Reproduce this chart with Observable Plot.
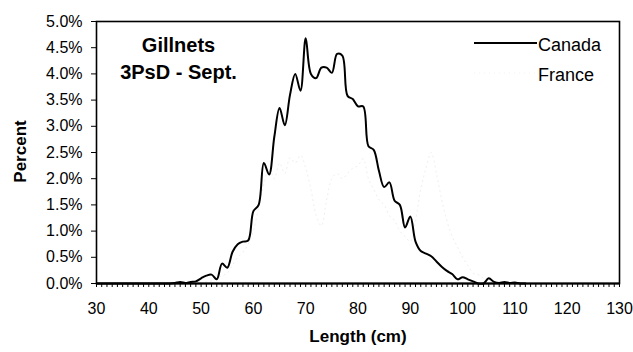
<!DOCTYPE html>
<html>
<head>
<meta charset="utf-8">
<script src="https://cdn.jsdelivr.net/npm/d3@7"></script>
<script src="https://cdn.jsdelivr.net/npm/@observablehq/plot@0.6"></script>
<style>
  html, body { margin: 0; padding: 0; background: #fff; }
  #wrap { position: relative; width: 633px; height: 352px; font-family: "Liberation Sans", Arial, sans-serif; }
  #legend { position: absolute; left: 0; top: 0; pointer-events: none; }
</style>
</head>
<body>
<div id="wrap"></div>
<script>
// Length classes (cm) and percentages
const canadaLength = [30,31,32,33,34,35,36,37,38,39,40,41,42,43,44,45,46,47,48,49,50,51,52,53,54,55,56,57,58,59,60,61,62,63,64,65,66,67,68,69,70,71,72,73,74,75,76,77,78,79,80,81,82,83,84,85,86,87,88,89,90,91,92,93,94,95,96,97,98,99,100,101,102,103,104,105,106,107,108,109,110,111,112];
const canadaPct = [0,0,0,0,0,0,0,0,0,0,0,0,0,0,0,0.01,0.03,0.01,0.03,0.04,0.10,0.15,0.17,0.08,0.38,0.30,0.60,0.75,0.80,0.82,1.38,1.50,2.30,2.08,2.80,3.35,3.02,3.60,4.00,3.68,4.68,4.00,3.92,4.12,4.12,4.02,4.38,4.35,3.58,3.52,3.38,3.38,2.62,2.55,2.15,1.84,1.93,1.58,1.50,1.07,1.28,0.80,0.62,0.57,0.52,0.42,0.32,0.24,0.18,0.08,0.12,0.08,0.04,0,0,0.10,0.03,0.01,0.03,0.01,0.02,0,0];

const franceLength = [48,50,52,54,55,56,57,58,59,60,61,62,63,64,65,66,67,68,69,70,71,72,73,74,75,76,77,78,79,80,81,82,83,84,85,86,87,88,89,90,91,92,93,94,95,96,97,98,99,100,101,102,103,104,105,106];
const francePct = [0,0.02,0.05,0.15,0.2,0.35,0.5,0.6,0.75,1.0,1.45,1.9,2.2,2.0,2.3,2.1,2.4,2.3,2.45,2.2,1.8,1.3,1.1,1.6,2.0,2.1,2.0,2.1,2.2,2.25,2.38,2.0,1.8,1.6,1.5,1.3,1.2,1.0,0.9,0.8,1.2,1.8,2.2,2.5,2.1,1.6,1.2,0.9,0.7,0.5,0.35,0.2,0.17,0.1,0.05,0];

const yTicks = [0,0.5,1,1.5,2,2.5,3,3.5,4,4.5,5];
const xMajor = [30,40,50,60,70,80,90,100,110,120,130];
const xMinor = d3.range(30, 131, 1);
const titleLines = "Gillnets\n3PsD - Sept.";
const seriesNames = ["Canada", "France"];

const canada = canadaLength.map((x, i) => ({x, y: canadaPct[i]}));
const france = franceLength.map((x, i) => ({x, y: francePct[i]}));

const font = "Liberation Sans, Arial, sans-serif";

const chart = Plot.plot({
  width: 633,
  height: 352,
  marginLeft: 96,
  marginRight: 14,
  marginTop: 21,
  marginBottom: 69,
  style: {fontFamily: font, color: "#000", background: "#fff", overflow: "visible"},
  x: {domain: [30, 130]},
  y: {domain: [0, 5]},
  marks: [
    Plot.line(france, {x: "x", y: "y", curve: "catmull-rom", stroke: "#ededed", strokeWidth: 1, strokeDasharray: "1,4"}),
    Plot.line(canada, {x: "x", y: "y", curve: "catmull-rom", stroke: "#000", strokeWidth: 2}),
    Plot.frame({stroke: "#000", strokeWidth: 1.6}),
    Plot.ruleY([0], {stroke: "#000", strokeWidth: 2.2}),
    Plot.axisX({ticks: xMinor, tickSize: 4, tickFormat: () => "", stroke: "#000", label: null}),
    Plot.axisX({ticks: xMajor, tickSize: 0, tickPadding: 19, fontSize: 16, tickFormat: d => String(d), label: null}),
    Plot.axisY({ticks: yTicks, tickSize: 5, tickPadding: 9, fontSize: 16, tickFormat: d => d.toFixed(1) + "%", label: null}),
    Plot.text([titleLines], {frameAnchor: "top-left", dx: 82, dy: 11, textAnchor: "middle", lineAnchor: "top", lineHeight: 1.35, fontSize: 20, fontWeight: "bold", fill: "#000"}),
    Plot.text(["Percent"], {frameAnchor: "left", dx: -76, dy: -1, rotate: -90, textAnchor: "middle", fontSize: 17, fontWeight: "bold", fill: "#000"}),
    Plot.text(["Length (cm)"], {frameAnchor: "bottom", dy: 58, fontSize: 17, fontWeight: "bold", fill: "#000"})
  ]
});

const wrap = document.getElementById("wrap");
wrap.appendChild(chart);

// Legend overlay (inside plot area, top-right)
const ns = "http://www.w3.org/2000/svg";
const leg = document.createElementNS(ns, "svg");
leg.setAttribute("id", "legend");
leg.setAttribute("width", 633);
leg.setAttribute("height", 352);
const styles = [{stroke: "#000", width: 2, dash: null}, {stroke: "#f2f2f2", width: 1, dash: "1,4"}];
seriesNames.forEach((name, i) => {
  const y = 43 + i * 30;
  const ln = document.createElementNS(ns, "line");
  ln.setAttribute("x1", 474); ln.setAttribute("x2", 537);
  ln.setAttribute("y1", y); ln.setAttribute("y2", y);
  ln.setAttribute("stroke", styles[i].stroke);
  ln.setAttribute("stroke-width", styles[i].width);
  if (styles[i].dash) ln.setAttribute("stroke-dasharray", styles[i].dash);
  leg.appendChild(ln);
  const t = document.createElementNS(ns, "text");
  t.setAttribute("x", 538);
  t.setAttribute("y", y + 8);
  t.setAttribute("font-size", 18);
  t.setAttribute("font-family", font);
  t.setAttribute("fill", "#000");
  t.textContent = name;
  leg.appendChild(t);
});
wrap.appendChild(leg);
</script>
</body>
</html>
